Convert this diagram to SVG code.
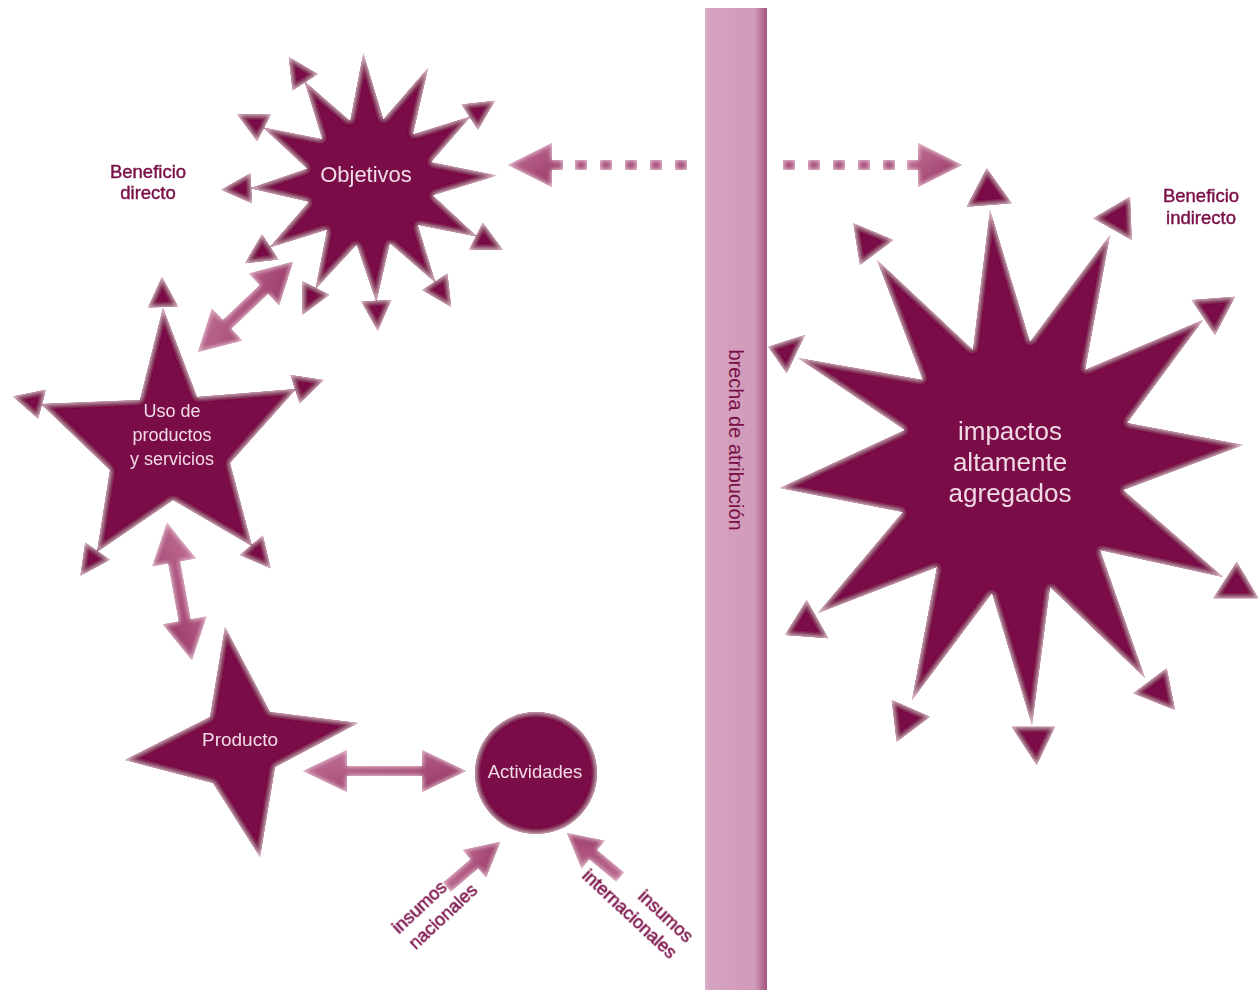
<svg xmlns="http://www.w3.org/2000/svg" xmlns:xlink="http://www.w3.org/1999/xlink" width="1259" height="990" viewBox="0 0 1259 990">
<defs>
<style>
.star{fill:#7a1046;}
.arr{fill:url(#arrGrad);}
.dash{fill:#a9487b;}
.in{font-family:"Liberation Sans",Arial,Helvetica,sans-serif;fill:#f1d9e6;text-anchor:middle;}
.out{font-family:"Liberation Sans",Arial,Helvetica,sans-serif;fill:#7a1048;stroke:#7a1048;stroke-width:0.45;text-anchor:middle;}
.gap{font-family:"Liberation Sans",Arial,Helvetica,sans-serif;fill:#7a1048;text-anchor:middle;}
</style>
<filter id="bevel" x="-10%" y="-10%" width="120%" height="120%">
<feGaussianBlur in="SourceAlpha" stdDeviation="2.5" result="b"/>
<feComposite in="SourceAlpha" in2="b" operator="arithmetic" k2="1.3" k3="-1.3" result="edge"/>
<feFlood flood-color="#f4cfe2" flood-opacity="0.75"/>
<feComposite in2="edge" operator="in" result="glow"/>
<feMerge><feMergeNode in="SourceGraphic"/><feMergeNode in="glow"/></feMerge>
</filter>
<linearGradient id="arrGrad" x1="0" y1="0" x2="1" y2="1">
<stop offset="0" stop-color="#c47599"/>
<stop offset="1" stop-color="#963264"/>
</linearGradient>
<linearGradient id="barGrad" x1="0" y1="0" x2="1" y2="0">
<stop offset="0" stop-color="#dcb0c9"/>
<stop offset="0.08" stop-color="#d5a2bf"/>
<stop offset="0.8" stop-color="#d09bb9"/>
<stop offset="1" stop-color="#a5557f"/>
</linearGradient>
<path id="tri" d="M-1,-15 L29,0 L-1,15 Z"/>
</defs>
<rect width="1259" height="990" fill="#ffffff"/>

<g id="attribution-gap">
<rect x="705" y="8" width="62" height="982" fill="url(#barGrad)"/>
<text class="gap" font-size="20" transform="translate(729,440) rotate(90)">brecha de atribución</text>
</g>

<g id="connectors" filter="url(#bevel)">
<path class="arr" transform="translate(198,352) rotate(-43.5)" d="M0,0 L40,-22 L40,-6 L91,-6 L91,-22 L131,0 L91,22 L91,6 L40,6 L40,22 Z"/>
<path class="arr" transform="translate(167,523) rotate(79.7)" d="M0,0 L40,-22 L40,-6 L99,-6 L99,-22 L139,0 L99,22 L99,6 L40,6 L40,22 Z"/>
<path class="arr" transform="translate(303,771)" d="M0,0 L44,-21 L44,-5 L119,-5 L119,-21 L163,0 L119,21 L119,5 L44,5 L44,21 Z"/>
<path class="arr" transform="translate(447,887) rotate(-40.3)" d="M0,-6 L36,-6 L36,-18 L70,0 L36,18 L36,6 L0,6 Z"/>
<path class="arr" transform="translate(620,877) rotate(-140.3)" d="M0,-6 L35,-6 L35,-18 L69,0 L35,18 L35,6 L0,6 Z"/>
<g id="dashed-left">
<path class="arr" d="M508,165 L552,143 L552,160 L563,160 L563,170 L552,170 L552,187 Z"/>
<rect class="dash" x="575" y="160" width="12" height="10"/>
<rect class="dash" x="600" y="160" width="12" height="10"/>
<rect class="dash" x="625" y="160" width="12" height="10"/>
<rect class="dash" x="650" y="160" width="12" height="10"/>
<rect class="dash" x="675" y="160" width="12" height="10"/>
</g>
<g id="dashed-right">
<rect class="dash" x="783" y="160" width="12" height="10"/>
<rect class="dash" x="808" y="160" width="12" height="10"/>
<rect class="dash" x="833" y="160" width="12" height="10"/>
<rect class="dash" x="858" y="160" width="12" height="10"/>
<rect class="dash" x="883" y="160" width="12" height="10"/>
<path class="arr" d="M962,165 L918,143 L918,160 L907,160 L907,170 L918,170 L918,187 Z"/>
</g>
</g>

<g id="node-objetivos" filter="url(#bevel)">
<polygon class="star" points="363.3,53.2 383.3,119.4 428.1,68 412.8,134.4 470.6,116.6 430.9,162.2 496.8,175.4 432.6,195.3 476.9,236.5 417.6,224.8 435.4,282.6 389.8,242.9 376.3,301.8 356.7,244.6 315.5,288.9 327.2,229.6 269.4,247.4 309.1,201.8 250.2,188.3 307.4,168.7 263.1,127.5 322.4,139.2 304.6,81.4 350.2,121.1"/>
<use href="#tri" class="star" transform="translate(470.6,116.6) rotate(-33)"/>
<use href="#tri" class="star" transform="translate(476.9,236.5) rotate(27)"/>
<use href="#tri" class="star" transform="translate(435.4,282.6) rotate(57)"/>
<use href="#tri" class="star" transform="translate(376.3,301.8) rotate(87)"/>
<use href="#tri" class="star" transform="translate(315.5,288.9) rotate(117)"/>
<use href="#tri" class="star" transform="translate(269.4,247.4) rotate(147)"/>
<use href="#tri" class="star" transform="translate(250.2,188.3) rotate(177)"/>
<use href="#tri" class="star" transform="translate(263.1,127.5) rotate(-153)"/>
<use href="#tri" class="star" transform="translate(304.6,81.4) rotate(-123)"/>
<text class="in" x="366" y="182" font-size="22">Objetivos</text>
</g>

<g id="label-beneficio-directo">
<text class="out" x="148" y="178" font-size="18.5">Beneficio</text>
<text class="out" x="148" y="199" font-size="18.5">directo</text>
</g>

<g id="node-uso" filter="url(#bevel)">
<polygon class="star" points="163,308 197,397 296,389 230,463 252,546 173,500 97,552 110,470 41,404 140,400"/>
<use href="#tri" class="star" transform="translate(163,306) rotate(-92)"/>
<use href="#tri" class="star" transform="translate(296,389) rotate(-18)"/>
<use href="#tri" class="star" transform="translate(252,546) rotate(50)"/>
<use href="#tri" class="star" transform="translate(97,552) rotate(125)"/>
<use href="#tri" class="star" transform="translate(41,404) rotate(195)"/>
<text class="in" x="172" y="417" font-size="18">Uso de</text>
<text class="in" x="172" y="441" font-size="18">productos</text>
<text class="in" x="172" y="465" font-size="18">y servicios</text>
</g>

<g id="node-producto" filter="url(#bevel)">
<polygon class="star" points="225,627 270,712 358,723 275,767 260,857 213,783 125,760 210,717"/>
<text class="in" x="240" y="746" font-size="19">Producto</text>
</g>

<g id="node-actividades" filter="url(#bevel)">
<circle class="star" cx="536" cy="773" r="61"/>
<text class="in" x="535" y="778" font-size="18.5">Actividades</text>
</g>

<g id="label-insumos-nacionales">
<text class="out" font-size="18" transform="translate(420,908) rotate(-43)"><tspan x="0" y="5">insumos</tspan><tspan x="11" y="28">nacionales</tspan></text>
</g>
<g id="label-insumos-internacionales">
<text class="out" font-size="18" transform="translate(665,917) rotate(43)"><tspan x="0" y="5">insumos</tspan><tspan x="-28" y="28">internacionales</tspan></text>
</g>

<g id="node-impactos" filter="url(#bevel)">
<polygon class="star" points="990,210 1030,342 1110,235 1085,370 1203,320 1127,423 1243,445 1123,490 1223,577 1100,550 1145,678 1050,587 1032,725 992,593 912,700 937,567 818,613 903,512 780,488 905,430 798,358 923,380 877,260 973,350"/>
<polygon class="star" points="966.7,206.7 1011.7,203.3 986.7,168.3"/>
<polygon class="star" points="853.3,223.3 893.3,240 860,265"/>
<polygon class="star" points="1093.3,218.3 1130,196.7 1131.7,240"/>
<polygon class="star" points="1191.7,300 1235,296.7 1215,335"/>
<polygon class="star" points="768.3,346.7 805,335 786.7,373.3"/>
<polygon class="star" points="1213.3,598.3 1236.7,561.7 1258.3,598.3"/>
<polygon class="star" points="1133.3,693.3 1166.7,668.3 1175,710"/>
<polygon class="star" points="1011.7,726.7 1055,726.7 1036.7,765"/>
<polygon class="star" points="891.7,700 930,716.7 896.7,741.7"/>
<polygon class="star" points="785,635 806.7,600 828.3,638.3"/>
<text class="in" x="1010" y="440" font-size="26">impactos</text>
<text class="in" x="1010" y="471" font-size="26">altamente</text>
<text class="in" x="1010" y="502" font-size="26">agregados</text>
</g>

<g id="label-beneficio-indirecto">
<text class="out" x="1201" y="202" font-size="18.5">Beneficio</text>
<text class="out" x="1201" y="224" font-size="18.5">indirecto</text>
</g>
</svg>
